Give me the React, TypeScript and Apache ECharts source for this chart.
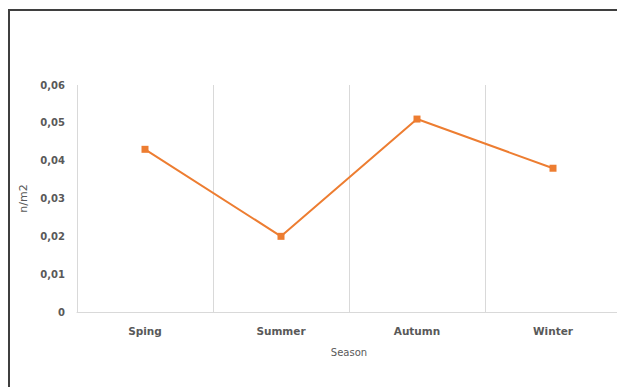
import React, { useEffect, useRef } from "react";
import * as echarts from "echarts";

const seasons = ["Sping", "Summer", "Autumn", "Winter"];
const density = [0.043, 0.02, 0.051, 0.038];
const yMin = 0;
const yMax = 0.06;
const yStep = 0.01;

export default function App() {
  const ref = useRef<HTMLDivElement>(null);

  useEffect(() => {
    if (!ref.current) return;
    const chart = echarts.init(ref.current, null, { renderer: "svg" });
    const labelFont = {
      color: "#595959",
      fontFamily: "DejaVu Sans",
      fontWeight: "bold" as const,
      fontSize: 10,
    };
    chart.setOption({
      animation: false,
      backgroundColor: "#ffffff",
      graphic: [
        {
          type: "polyline",
          shape: { points: [[9, 387], [9, 10], [640, 10]] },
          style: { stroke: "#3f3f3f", lineWidth: 2, fill: "none" },
          silent: true,
        },
      ],
      // the plot area runs past the right edge of the visible frame
      grid: { left: 77, top: 85, width: 544, height: 227 },
      xAxis: {
        type: "category",
        data: seasons,
        boundaryGap: true,
        name: "Season",
        nameLocation: "middle",
        nameGap: 35,
        nameTextStyle: { ...labelFont, fontSize: 10, fontWeight: "normal" },
        axisLine: { show: true, lineStyle: { color: "#d9d9d9", width: 1 } },
        axisTick: { show: false },
        axisLabel: { ...labelFont, fontSize: 10.5, margin: 13 },
        splitLine: { show: true, lineStyle: { color: "#d9d9d9", width: 1 } },
      },
      yAxis: {
        type: "value",
        min: yMin,
        max: yMax,
        interval: yStep,
        name: "n/m2",
        nameLocation: "middle",
        nameRotate: 90,
        nameGap: 45,
        nameTextStyle: { ...labelFont, fontSize: 11, fontWeight: "normal" },
        axisLine: { show: false },
        axisTick: { show: false },
        splitLine: { show: false },
        axisLabel: {
          ...labelFont,
          margin: 12,
          formatter: (v: number) =>
            v === 0 ? "0" : v.toFixed(2).replace(".", ","),
        },
      },
      series: [
        {
          type: "line",
          data: density,
          symbol: "rect",
          symbolSize: 7,
          lineStyle: { color: "#ED7D31", width: 2 },
          itemStyle: { color: "#ED7D31" },
        },
      ],
    });
    return () => chart.dispose();
  }, []);

  return (
    <div
      style={{
        position: "fixed",
        left: 0,
        top: 0,
        width: 617,
        height: 387,
        overflow: "hidden",
      }}
    >
      <div ref={ref} style={{ width: 640, height: 387 }} />
    </div>
  );
}
